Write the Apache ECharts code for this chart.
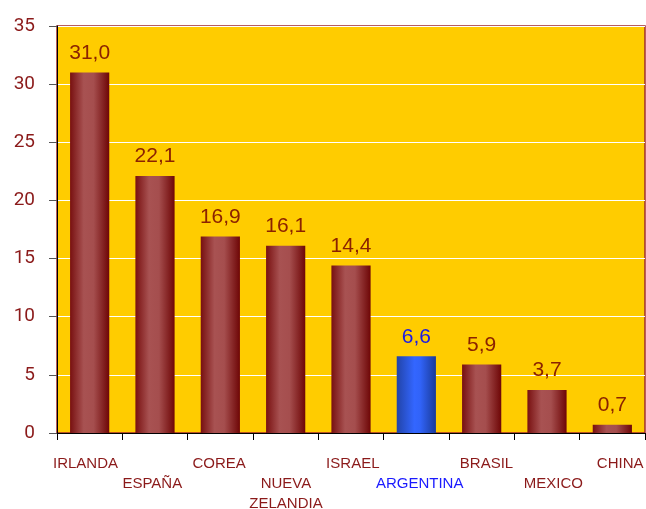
<!DOCTYPE html>
<html><head><meta charset="utf-8">
<script src="https://cdn.jsdelivr.net/npm/echarts@6/dist/echarts.min.js"></script>
<style>html,body{margin:0;padding:0;background:#fff}#c{width:646px;height:509px}</style>
</head><body><div id="c"></div>
<script>
const categories = ['IRLANDA','ESPAÑA','COREA','NUEVA\nZELANDIA','ISRAEL','ARGENTINA','BRASIL','MEXICO','CHINA'];
const values = [31.0, 22.1, 16.9, 16.1, 14.4, 6.6, 5.9, 3.7, 0.7];
const highlight = 'ARGENTINA';
const yTicks = {min: 0, max: 35, interval: 5};

const redGrad = new echarts.graphic.LinearGradient(0,0,1,0,[
  {offset:0,color:'#781010'},{offset:0.35,color:'#A85252'},{offset:0.6,color:'#A54E4E'},{offset:1,color:'#6E0606'}]);
const blueGrad = new echarts.graphic.LinearGradient(0,0,1,0,[
  {offset:0,color:'#2244A8'},{offset:0.45,color:'#3366FF'},{offset:0.6,color:'#3163F8'},{offset:1,color:'#1A3A99'}]);

// labels in the reference spread slightly wider than the bars
function labelPad(i){
  const d = -4.2 + 1.5 * i;
  return d >= 0 ? [0,0,0,2*d] : [0,-2*d,0,0];
}

const chart = echarts.init(document.getElementById('c'), null, {renderer:'canvas'});
chart.setOption({
  animation:false,
  grid:{left:57,right:1,top:26,bottom:76,outerBoundsMode:'none',containLabel:false,show:true,backgroundColor:'#FFCC00',borderColor:'#A0282A',borderWidth:1.5},
  xAxis:{
    type:'category',
    data: categories.map((c,i)=>({value:c, textStyle:{color: c===highlight ? '#1A1AFF' : '#8B1A1A', padding: labelPad(i)}})),
    axisLine:{lineStyle:{color:'#000',width:1}},
    axisTick:{show:true,length:7,lineStyle:{color:'#000'}},
    axisLabel:{interval:0,margin:21,fontFamily:'Liberation Sans',fontSize:15,lineHeight:20,
      formatter:(v,i)=> (i%2===1 ? '\n'+v : v)}
  },
  yAxis:{
    type:'value',min:yTicks.min,max:yTicks.max,interval:yTicks.interval,
    axisLine:{show:true,lineStyle:{color:'#000'}},
    axisTick:{show:true,length:8,lineStyle:{color:'#555'}},
    axisLabel:{margin:22,color:'#8B1A1A',fontFamily:'Roboto',fontSize:19},
    splitLine:{lineStyle:{color:'#FFFFFF',width:1}}
  },
  series:[{
    type:'bar',barWidth:'60%',
    data: values.map((v,i)=>({value:v,
      itemStyle:{color: categories[i]===highlight ? blueGrad : redGrad},
      label:{color: categories[i]===highlight ? '#1A1AE6' : '#8B2200'}})),
    label:{show:true,position:'top',distance:9,fontFamily:'Liberation Sans',fontSize:21,
      formatter:p=>p.value.toFixed(1).replace('.',',')}
  }]
});
</script></body></html>
